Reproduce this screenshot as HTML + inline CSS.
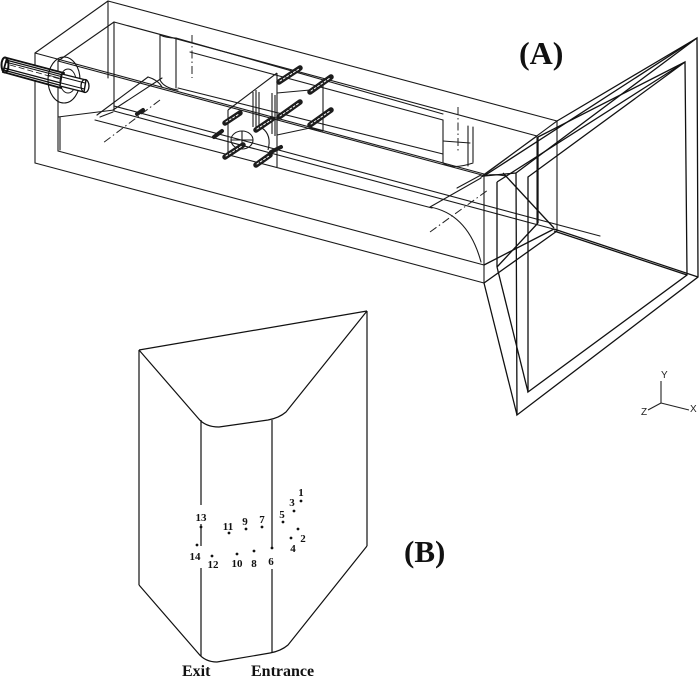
<!DOCTYPE html>
<html>
<head>
<meta charset="utf-8">
<style>
html,body{margin:0;padding:0;background:#fff;}
svg{display:block;}
.t{font-family:"Liberation Serif",serif;font-weight:bold;fill:#111;}
.n{font-family:"Liberation Serif",serif;font-weight:bold;font-size:11px;fill:#111;}
.ax{font-family:"Liberation Sans",sans-serif;font-size:10px;fill:#222;}
</style>
</head>
<body>
<svg width="700" height="678" viewBox="0 0 700 678" xmlns="http://www.w3.org/2000/svg">
<rect width="700" height="678" fill="#fff"/>

<!-- ================= (A) ================= -->
<g stroke="#1a1a1a" stroke-width="1.1" fill="none" stroke-linecap="round">
  <!-- outer box -->
  <line x1="108" y1="1" x2="557" y2="121"/>
  <line x1="35" y1="53" x2="484" y2="174"/>
  <line x1="108" y1="1" x2="35" y2="53"/>
  <line x1="557" y1="121" x2="484" y2="175"/>
  <line x1="35" y1="53" x2="35" y2="163"/>
  <line x1="484" y1="175" x2="484" y2="283"/>
  <line x1="557" y1="121" x2="557" y2="231"/>
  <line x1="35" y1="163" x2="484" y2="283"/>
  <line x1="108" y1="1" x2="108" y2="78"/>
  <!-- inner box -->
  <line x1="114" y1="22" x2="537" y2="136"/>
  <line x1="58" y1="61" x2="482" y2="175"/>
  <line x1="114" y1="22" x2="58" y2="61"/>
  <line x1="58" y1="61" x2="58" y2="151"/>
  <line x1="114" y1="22" x2="114" y2="111"/>
  <line x1="58" y1="151" x2="484" y2="265"/>
  <line x1="114" y1="111" x2="557" y2="230"/>
  <line x1="537" y1="136" x2="537" y2="224"/>
  <line x1="537" y1="136" x2="482" y2="176"/>
  <!-- channel floor lines -->
  <line x1="114" y1="106" x2="600" y2="236"/>
  <line x1="58" y1="117" x2="114" y2="110"/>
  <line x1="95" y1="120" x2="432" y2="208"/>
  <line x1="60" y1="150" x2="60" y2="117"/>
  <!-- upper walls/fairing lines -->
  <line x1="176" y1="38" x2="443" y2="114"/>
  <line x1="178" y1="88" x2="443" y2="154"/>
  <line x1="190" y1="52" x2="443" y2="120"/>
  <!-- left fairing -->
  <line x1="160" y1="35" x2="160" y2="80"/>
  <line x1="176" y1="38" x2="176" y2="88"/>
  <path d="M160,35 Q166,38 176,38"/>
  <path d="M160,80 Q164,88 178,90"/>
  <!-- right fairing -->
  <line x1="443" y1="120" x2="443" y2="163"/>
  <line x1="468" y1="126" x2="468" y2="166"/>
  <line x1="473" y1="127" x2="473" y2="162"/>
  <line x1="443" y1="141" x2="470" y2="143"/>
  <path d="M443,163 Q452,170 473,163"/>
  <!-- left floor contraction -->
  <line x1="97" y1="115" x2="148" y2="77"/>
  <line x1="113" y1="110" x2="162" y2="78"/>
  <path d="M148,77 Q158,80 162,87"/>
  <line x1="100" y1="117" x2="113" y2="112"/>
  <!-- right floor contraction -->
  <line x1="430" y1="207" x2="481" y2="178"/>
  <line x1="457" y1="188" x2="481" y2="175"/>
  <path d="M430,207 Q468,214 481,262"/>
  <path d="M481,177 Q490,173 506,176"/>
</g>

<!-- dash-dot centre lines -->
<g stroke="#222" stroke-width="1" fill="none" stroke-dasharray="8,3,1.5,3">
  <line x1="160" y1="100" x2="103" y2="143"/>
  <line x1="192" y1="35" x2="192" y2="78"/>
  <line x1="430" y1="232" x2="488" y2="190"/>
  <line x1="458" y1="107" x2="458" y2="152"/>
</g>

<!-- funnel -->
<g stroke="#111" stroke-width="1.3" fill="none" stroke-linejoin="miter">
  <polygon points="516,173 697,38 698,277 517,415"/>
  <polygon points="528,177 685,62 687,275 528,392"/>
  <line x1="484" y1="176" x2="516" y2="173"/>
  <line x1="484" y1="283" x2="517" y2="415"/>
  <line x1="497" y1="267" x2="528" y2="392"/>
  <line x1="557" y1="121" x2="697" y2="38"/>
  <line x1="484" y1="176" x2="697" y2="38"/>
  <line x1="538" y1="137" x2="685" y2="62"/>
  <line x1="497" y1="182" x2="685" y2="62"/>
  <line x1="503" y1="173" x2="554" y2="228"/>
  <line x1="554" y1="229" x2="698" y2="277"/>
  <line x1="554" y1="231" x2="687" y2="275"/>
  <line x1="497" y1="182" x2="497" y2="267"/>
  <line x1="538" y1="137" x2="538" y2="223"/>
  <line x1="484" y1="265" x2="554" y2="229"/>
  <line x1="497" y1="267" x2="538" y2="223"/>
  <line x1="484" y1="283" x2="557" y2="231"/>
</g>

<!-- central measuring plane -->
<g stroke="#1a1a1a" stroke-width="1.1" fill="none">
  <line x1="277" y1="73" x2="277" y2="167"/>
  <line x1="277" y1="73" x2="228" y2="110"/>
  <line x1="228" y1="110" x2="228" y2="152"/>
  <line x1="323" y1="80" x2="323" y2="131"/>
  <line x1="277" y1="93" x2="310" y2="90"/>
  <line x1="310" y1="90" x2="323" y2="80"/>
  <line x1="277" y1="135" x2="310" y2="128"/>
  <line x1="310" y1="128" x2="323" y2="131"/>
  <line x1="253" y1="92" x2="253" y2="127"/>
  <line x1="256" y1="90" x2="256" y2="128"/>
  <line x1="259" y1="92" x2="259" y2="126"/>
  <line x1="272" y1="93" x2="272" y2="134"/>
  <line x1="275" y1="95" x2="275" y2="136"/>
  <ellipse cx="242" cy="140" rx="11" ry="9"/>
  <line x1="231" y1="140" x2="253" y2="140"/>
  <line x1="242" y1="131" x2="242" y2="149"/>
  <path d="M262,128 Q272,135 268,150"/>
</g>

<!-- rods -->
<g stroke-linecap="round">
  <g stroke="#1c1c1c" stroke-width="5.5">
    <line x1="279" y1="82" x2="300" y2="68"/>
    <line x1="310" y1="92" x2="331" y2="77"/>
    <line x1="279" y1="117" x2="300" y2="102"/>
    <line x1="310" y1="125" x2="331" y2="110"/>
    <line x1="225" y1="123" x2="240" y2="113"/>
    <line x1="225" y1="157" x2="243" y2="145"/>
    <line x1="256" y1="165" x2="270" y2="155"/>
    <line x1="256" y1="130" x2="272" y2="119"/>
  </g>
  <g stroke="#1c1c1c" stroke-width="4">
    <line x1="214" y1="137" x2="222" y2="131"/>
    <line x1="137" y1="114" x2="143" y2="110"/>
    <line x1="271" y1="152" x2="281" y2="147"/>
  </g>
  <g stroke="#fff" stroke-width="1" stroke-dasharray="2,2">
    <line x1="280" y1="81" x2="299" y2="69"/>
    <line x1="311" y1="91" x2="330" y2="78"/>
    <line x1="280" y1="116" x2="299" y2="103"/>
    <line x1="311" y1="124" x2="330" y2="111"/>
    <line x1="226" y1="122" x2="239" y2="114"/>
    <line x1="226" y1="156" x2="242" y2="146"/>
    <line x1="257" y1="164" x2="269" y2="156"/>
    <line x1="257" y1="129" x2="271" y2="120"/>
  </g>
</g>

<!-- inlet pipe -->
<g fill="none" stroke="#111">
  <polygon points="7,58 64,73 61,88 3,72" fill="#fff" stroke-width="1.8"/>
  <line x1="6" y1="60" x2="63" y2="75" stroke-width="1.2"/>
  <line x1="5.5" y1="62" x2="63" y2="77" stroke-width="1"/>
  <line x1="4" y1="68" x2="61" y2="83" stroke-width="1.2"/>
  <line x1="3.5" y1="70" x2="61" y2="85.5" stroke-width="1.2"/>
  <line x1="10" y1="65" x2="60" y2="79" stroke-width="0.8" stroke-dasharray="6,3"/>
  <ellipse cx="5" cy="65" rx="3.5" ry="7.5" stroke-width="2"/>
  <ellipse cx="64" cy="80" rx="16" ry="23" stroke-width="1.1"/>
  <ellipse cx="68" cy="81" rx="8" ry="12" stroke-width="0.9"/>
  <line x1="48" y1="75" x2="80" y2="84" stroke-width="0.8"/>
  <polygon points="62,74 86,80 84,92 60,86" fill="#fff" stroke-width="1.4"/>
  <line x1="62" y1="77" x2="85" y2="83" stroke-width="1"/>
  <line x1="61" y1="83" x2="84.5" y2="89" stroke-width="1"/>
  <ellipse cx="85" cy="86" rx="4" ry="6.5" stroke-width="1.3"/>
</g>

<text class="t" x="519" y="64" font-size="32">(A)</text>

<!-- axis triad -->
<g stroke="#222" stroke-width="1.1" fill="none">
  <line x1="661" y1="381" x2="661" y2="403"/>
  <line x1="661" y1="403" x2="689" y2="410"/>
  <line x1="661" y1="403" x2="648" y2="410"/>
</g>
<text class="ax" x="661" y="378">Y</text>
<text class="ax" x="690" y="412">X</text>
<text class="ax" x="641" y="415">Z</text>

<!-- ================= (B) ================= -->
<g stroke="#111" stroke-width="1.2" fill="none" stroke-linejoin="round">
  <line x1="139" y1="350" x2="367" y2="311"/>
  <path d="M139,350 L198,418 Q205,427 219,427 L268,420 Q279,418 286,412 L367,311"/>
  <line x1="139" y1="350" x2="139" y2="585"/>
  <line x1="367" y1="311" x2="367" y2="546"/>
  <path d="M139,585 L198,653 Q205,662 217,662 L270,653 Q281,651 288,645 L367,546"/>
  <line x1="201" y1="420" x2="201" y2="505"/>
  <line x1="201" y1="524" x2="201" y2="546"/>
  <line x1="201" y1="568" x2="201" y2="656"/>
  <line x1="272" y1="420" x2="272" y2="548"/>
  <line x1="272" y1="569" x2="272" y2="653"/>
</g>

<!-- points -->
<g fill="#111">
  <circle cx="301" cy="501" r="1.4"/>
  <circle cx="294" cy="511" r="1.4"/>
  <circle cx="283" cy="522" r="1.4"/>
  <circle cx="262" cy="527" r="1.4"/>
  <circle cx="246" cy="529" r="1.4"/>
  <circle cx="229" cy="533" r="1.4"/>
  <circle cx="201" cy="527" r="1.4"/>
  <circle cx="298" cy="529" r="1.4"/>
  <circle cx="291" cy="538" r="1.4"/>
  <circle cx="272" cy="548" r="1.4"/>
  <circle cx="254" cy="551" r="1.4"/>
  <circle cx="237" cy="554" r="1.4"/>
  <circle cx="212" cy="556" r="1.4"/>
  <circle cx="197" cy="545" r="1.4"/>
</g>
<g class="n" text-anchor="middle">
  <text x="301" y="496">1</text>
  <text x="292" y="506">3</text>
  <text x="282" y="518">5</text>
  <text x="262" y="523">7</text>
  <text x="245" y="525">9</text>
  <text x="228" y="530">11</text>
  <text x="201" y="521">13</text>
  <text x="303" y="542">2</text>
  <text x="293" y="552">4</text>
  <text x="271" y="565">6</text>
  <text x="254" y="567">8</text>
  <text x="237" y="567">10</text>
  <text x="213" y="568">12</text>
  <text x="195" y="560">14</text>
</g>

<text class="t" x="404" y="562" font-size="31">(B)</text>
<text class="t" x="182" y="676" font-size="16">Exit</text>
<text class="t" x="251" y="676" font-size="16">Entrance</text>
</svg>
</body>
</html>
